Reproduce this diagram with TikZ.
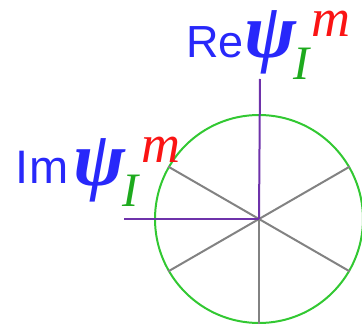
\documentclass[tikz,border=0pt]{standalone}
\usepackage{fontspec}
\setmainfont{Liberation Serif}
\newfontfamily\lsans{Liberation Sans}
\definecolor{tblue}{RGB}{40,40,250}
\definecolor{tred}{RGB}{250,20,20}
\definecolor{tgreen}{RGB}{30,170,30}
\definecolor{cgreen}{RGB}{50,200,50}
\definecolor{axpurple}{RGB}{110,50,170}
\definecolor{spoke}{RGB}{130,130,130}
\begin{document}
\begin{tikzpicture}[x=1pt,y=-1pt,
  lbl/.style={inner sep=0pt, outer sep=0pt, anchor=base west},
  resans/.style={lbl, text=tblue, font=\lsans\fontsize{45}{45}\selectfont, text height=0.72em, text depth=0pt},
  imsans/.style={lbl, text=tblue, font=\lsans\fontsize{47}{47}\selectfont, text height=0.72em, text depth=0pt},
  psisym/.style={lbl, text=tblue, font=\bfseries\itshape\fontsize{78}{78}\selectfont, text height=0.62em, text depth=0.2em},
  subl/.style={lbl, text=tgreen, font=\itshape\fontsize{48}{48}\selectfont, text height=0.64em, text depth=0pt},
  supm/.style={lbl, text=tred, font=\itshape\fontsize{54}{54}\selectfont, text height=0.44em, text depth=0pt},
  axis/.style={draw=axpurple, line width=2pt},
  spk/.style={draw=spoke, line width=2pt},
]
\useasboundingbox (0,0) rectangle (362,326);
\coordinate (c) at (259,219);
\node[circle, draw=cgreen, line width=2pt, minimum size=208pt, inner sep=0pt] (circ) at (c) {};
\foreach \a in {30,150,210,270,330} \draw[spk] (c) -- (circ.\a);
\coordinate (top) at (260,79);
\coordinate (left) at (124,219);
\draw[axis] (top) -- (c);
\draw[axis] (left) -- (c);
% Re psi_l^m
\node[resans] (re) at (186,58) {Re};
\node[psisym] (repsi) at (244,58) {ψ};
\node[subl] (rel) at (293,80) {I};
\node[supm] (rem) at (311,37) {m};
% Im psi_l^m
\node[imsans] (im) at (16,184) {Im};
\node[psisym] (impsi) at (74,186) {ψ};
\node[subl] (iml) at (122,207) {I};
\node[supm] (imm) at (141,163) {m};
\end{tikzpicture}
\end{document}
